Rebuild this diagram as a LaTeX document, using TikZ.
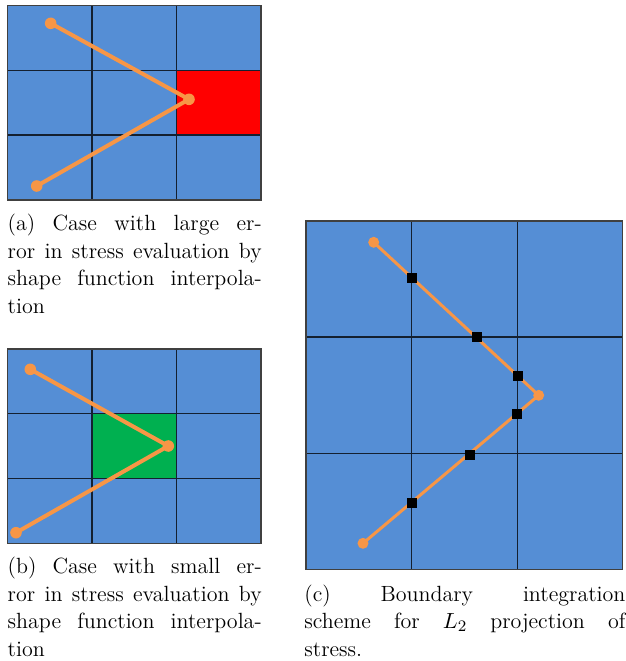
\documentclass[tikz,border=0pt]{standalone}
\usepackage{amsmath}
\usepackage{xcolor}
\usepackage{tikz}
\usetikzlibrary{positioning}
\definecolor{cellblue}{HTML}{558ED5}
\definecolor{errred}{HTML}{FF0000}
\definecolor{okgreen}{HTML}{00B050}
\definecolor{pathorange}{HTML}{F79646}
\definecolor{gridline}{HTML}{142030}
\setlength{\parindent}{0pt}

\begin{document}
\begin{tikzpicture}[
    x=0.5pt, y=-0.5pt,
    grid/.style={draw=gridline, line width=0.6pt},
    frame/.style={draw=black!75, line width=0.75pt},
    dot/.style={circle, fill=pathorange, inner sep=0pt, minimum size=5.8pt},
    gauss/.style={rectangle, fill=black, inner sep=0pt, minimum size=5pt},
    seg/.style={draw=pathorange, line width=2pt},
    subcap/.style={anchor=base west, inner sep=0pt, align=justify, font=\fontsize{11}{13.75}\selectfont}
]
\useasboundingbox (0,0) rectangle (626,661);

% (a) large error
\fill[cellblue] (7.3,5.7) rectangle (261,200);
\fill[errred] (176.7,70.3) rectangle (261,135);
\draw[grid] (92,5.7) -- (92,200) (176.7,5.7) -- (176.7,200)
            (7.3,70.3) -- (261,70.3) (7.3,135) -- (261,135);
\draw[frame] (7.3,5.7) rectangle (261,200);
\node[dot] (a1) at (50.7,23.3) {};
\node[dot] (a2) at (189,99.3) {};
\node[dot] (a3) at (36.7,186) {};
\draw[seg] (a1.center) -- (a2.center) -- (a3.center);
\node[subcap, text width=127pt] (capa) at (7.3,230.5)
  {(a)~Case~with~large~er-\linebreak ror~in~stress~evaluation~by\linebreak shape~function~interpola-\linebreak tion};

% (b) small error
\fill[cellblue] (7.3,349) rectangle (261,543.3);
\fill[okgreen] (92,413.7) rectangle (176.7,478.3);
\draw[grid] (92,349) -- (92,543.3) (176.7,349) -- (176.7,543.3)
            (7.3,413.7) -- (261,413.7) (7.3,478.3) -- (261,478.3);
\draw[frame] (7.3,349) rectangle (261,543.3);
\node[dot] (b1) at (30.3,369.3) {};
\node[dot] (b2) at (168.3,446) {};
\node[dot] (b3) at (16,532.7) {};
\draw[seg] (b1.center) -- (b2.center) -- (b3.center);
\node[subcap, text width=127pt] (capb) at (7.3,573.5)
  {(b)~Case~with~small~er-\linebreak ror~in~stress~evaluation~by\linebreak shape~function~interpola-\linebreak tion};

% (c) boundary integration
\fill[cellblue] (306,221) rectangle (622.7,569.3);
\draw[grid] (411.3,221) -- (411.3,569.3) (517.3,221) -- (517.3,569.3)
            (306,337) -- (622.7,337) (306,453.7) -- (622.7,453.7);
\draw[frame] (306,221) rectangle (622.7,569.3);
\node[dot, minimum size=5.5pt] (c1) at (373.7,242.3) {};
\node[dot, minimum size=5.5pt] (c2) at (538.7,395.3) {};
\node[dot, minimum size=5.5pt] (c3) at (363,543.3) {};
\draw[seg, line width=1.5pt] (c1.center) -- (c2.center) -- (c3.center);
\node[gauss] (g1) at (412.3,277.5) {};
\node[gauss] (g2) at (477,337.2) {};
\node[gauss] (g3) at (518,376) {};
\node[gauss] (g4) at (517,414) {};
\node[gauss] (g5) at (470,454.5) {};
\node[gauss] (g6) at (412.3,502.7) {};
\node[subcap, text width=160.5pt] (capc) at (304,601)
  {(c)~Boundary~integration\linebreak scheme~for~$L_2$~projection~of\linebreak stress.};
\end{tikzpicture}
\end{document}
